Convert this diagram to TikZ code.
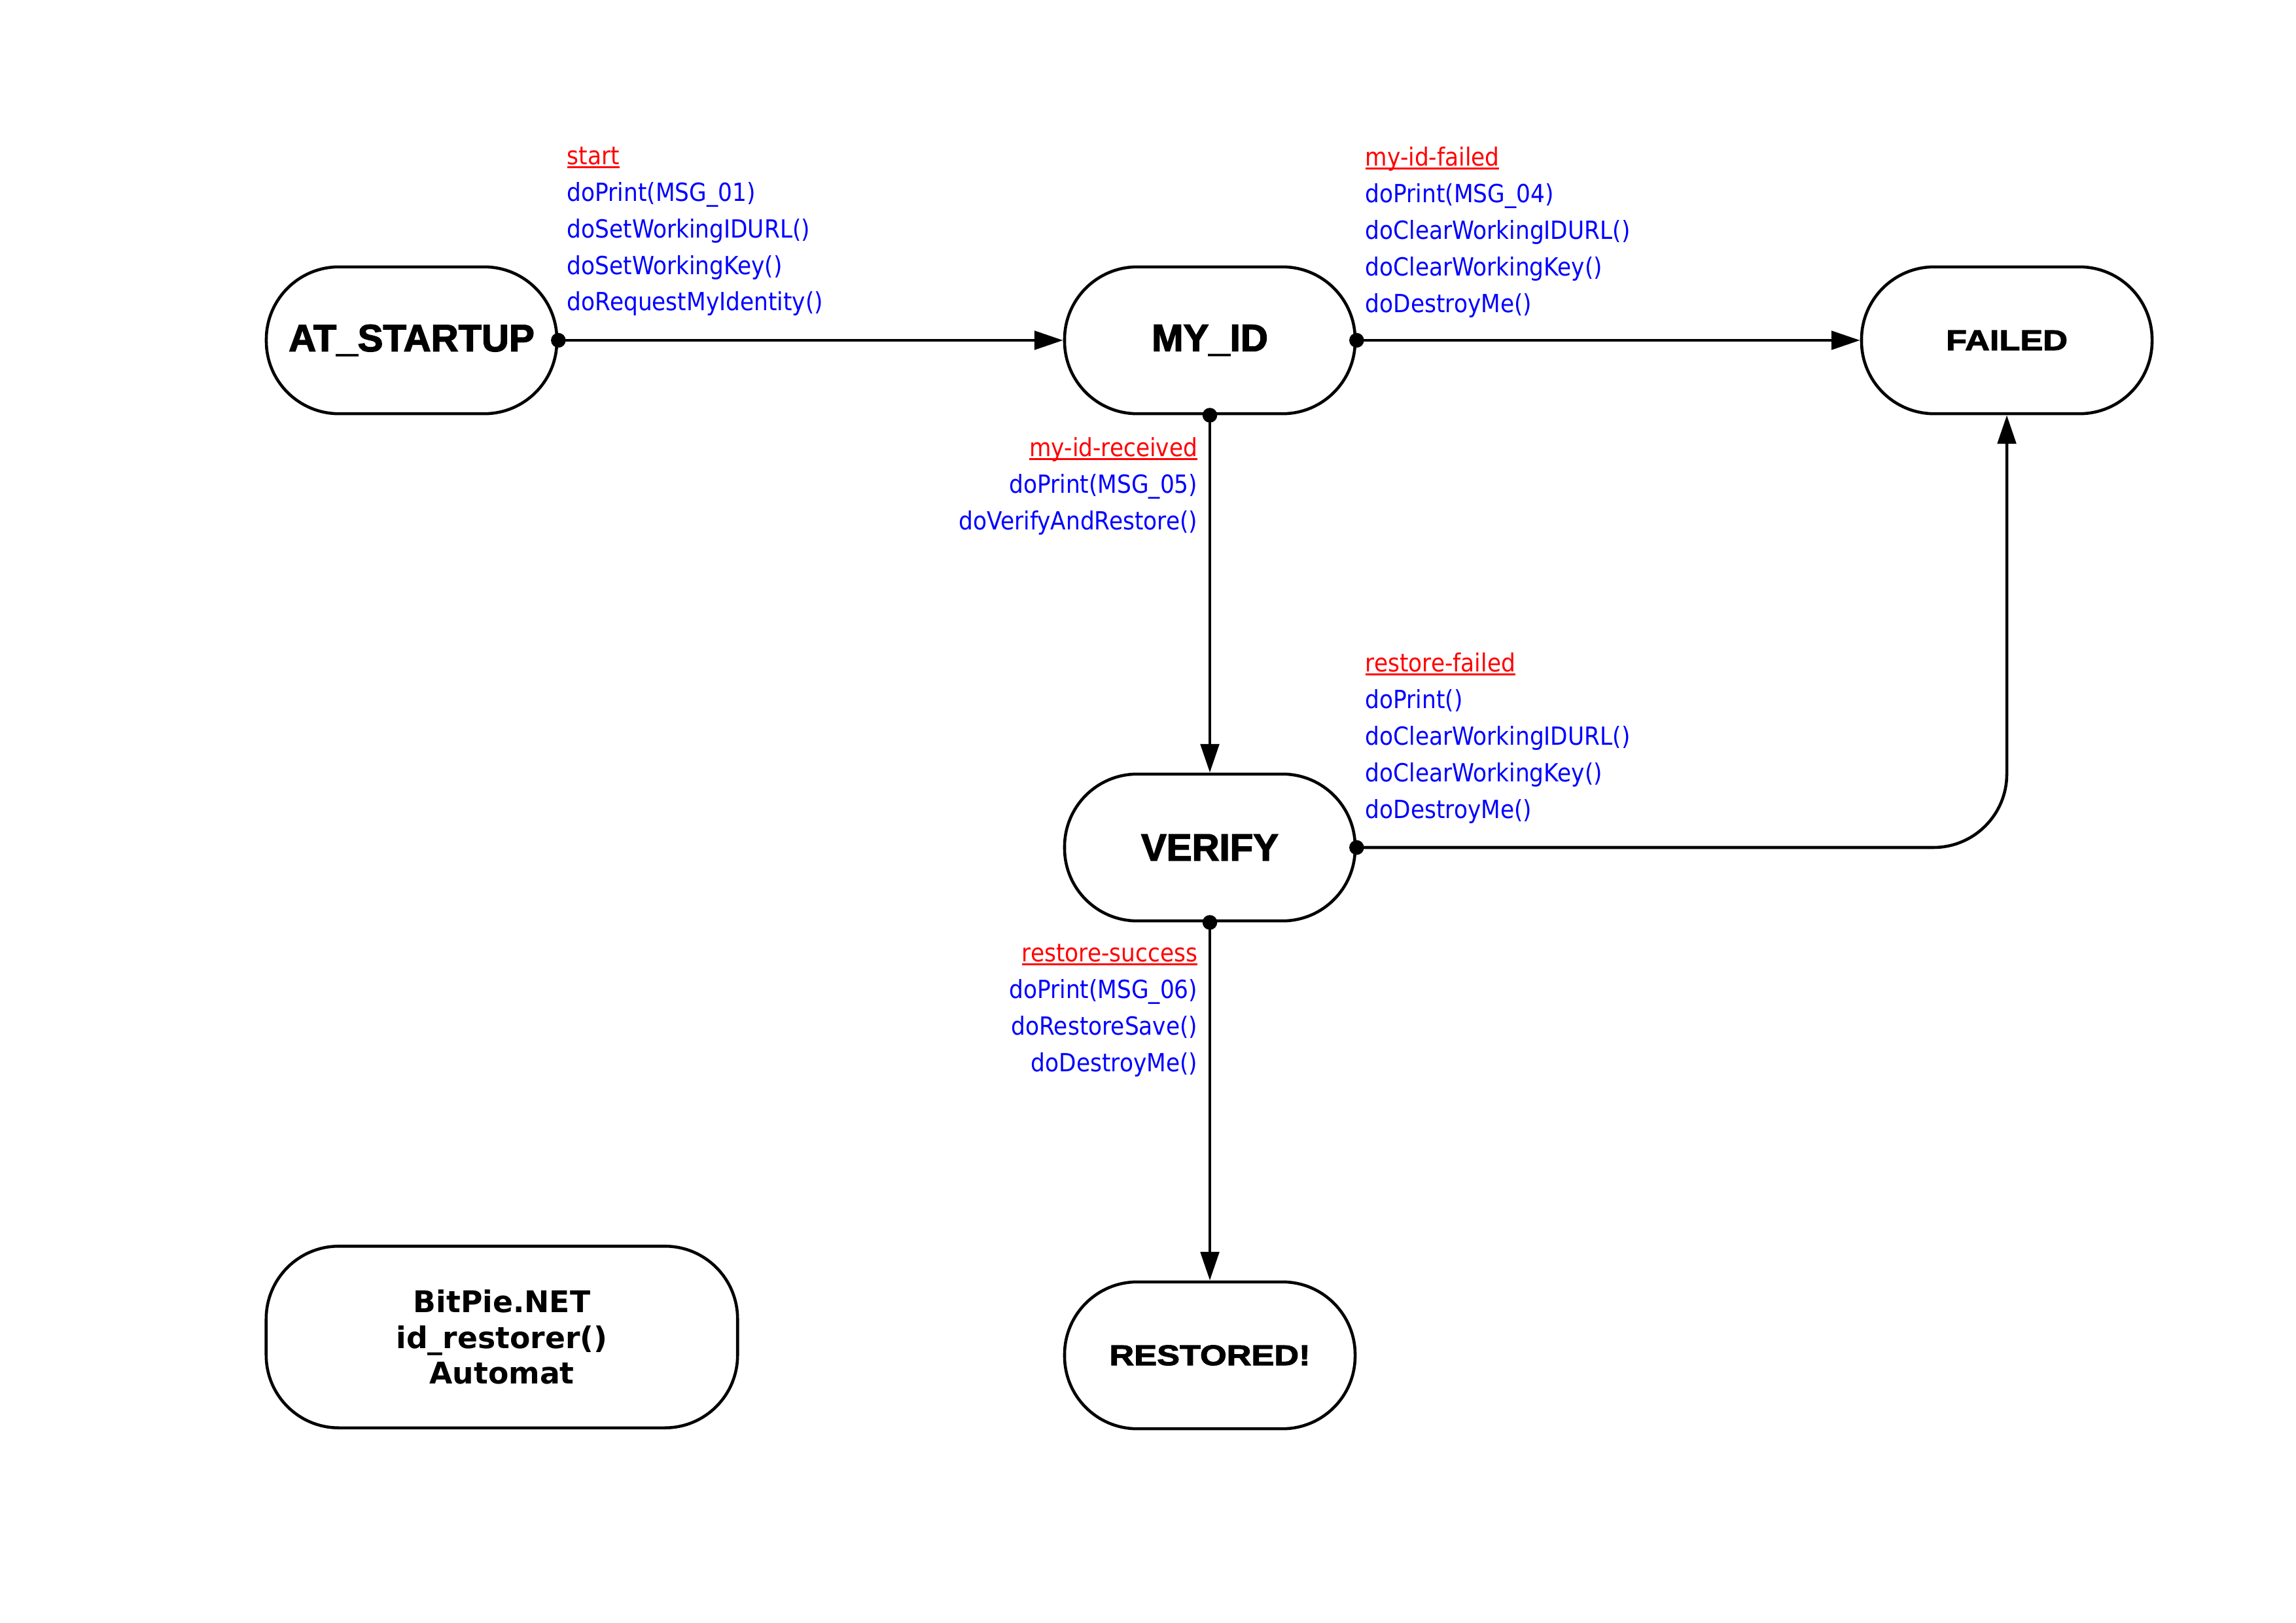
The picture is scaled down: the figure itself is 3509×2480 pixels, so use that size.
\documentclass[tikz,border=0pt]{standalone}
\usepackage{fontspec}
\usepackage{xcolor}
\usetikzlibrary{arrows.meta}
\newfontfamily\heavyfont[FakeBold=2.5]{Liberation Sans Bold}
\newfontfamily\wideheavyfont[FakeBold=2.5,FakeStretch=1.2]{Liberation Sans Bold}
\newfontfamily\actfont[FakeStretch=0.9]{DejaVu Sans}
\newfontfamily\titlefont{DejaVu Sans}
\newcommand{\evt}[1]{\textcolor{red}{\setbox0\hbox{#1}\rlap{\rule[-1.3pt]{\wd0}{0.7pt}}\box0}}

\begin{document}
\begin{tikzpicture}[x=0.084667mm,y=-0.084667mm,
  state/.style={draw,line width=1.1pt,rounded corners=9.4mm,minimum width=37.6mm,minimum height=19mm,inner sep=0pt},
  big/.style={font=\heavyfont\fontsize{14}{16}\selectfont},
  wide/.style={font=\wideheavyfont\fontsize{10.5}{12}\selectfont},
  act/.style={inner sep=0pt,text=blue,font=\actfont\fontsize{9.2}{13.45}\selectfont},
  trans/.style={line width=1.1pt,{Circle[length=1.9mm]}-{Triangle[length=3.7mm,width=2.4mm]},shorten <=-0.95mm}]
\useasboundingbox (0,0) rectangle (3509,2480);
% states
\node[state,big] (atstartup) at (629,520) {AT\_STARTUP};
\node[state,big] (myid) at (1849,520) {MY\_ID};
\node[state,wide] (failed) at (3067,520) {FAILED};
\node[state,big] (verify) at (1849,1295) {VERIFY};
\node[state,wide] (restored) at (1849,2071) {RESTORED!};
\node[state,minimum width=61mm,minimum height=23.5mm,align=center,
  font=\titlefont\bfseries\fontsize{11}{13.2}\selectfont] (bitpie) at (767,2043)
  {BitPie.NET\\id\_restorer()\\Automat};
% transitions
\draw[trans] (atstartup.east) -- (myid.west);
\draw[trans] (myid.east) -- (failed.west);
\draw[trans] (myid.south) -- (verify.north);
\draw[trans,rounded corners=9.5mm] (verify.east) -| (failed.south);
\draw[trans] (verify.south) -- (restored.north);
% labels
\node[act,anchor=north west,align=left] (lstart) at (866,224)
  {\evt{start}\\doPrint(MSG\_01)\\doSetWorkingIDURL()\\doSetWorkingKey()\\doRequestMyIdentity()};
\node[act,anchor=north west,align=left] (lmyidfailed) at (2086,224)
  {\evt{my-id-failed}\\doPrint(MSG\_04)\\doClearWorkingIDURL()\\doClearWorkingKey()\\doDestroyMe()};
\node[act,anchor=north east,align=right] (lmyidreceived) at (1831,668)
  {\evt{my-id-received}\\doPrint(MSG\_05)\\doVerifyAndRestore()};
\node[act,anchor=north west,align=left] (lrestorefailed) at (2086,997)
  {\evt{restore-failed}\\doPrint()\\doClearWorkingIDURL()\\doClearWorkingKey()\\doDestroyMe()};
\node[act,anchor=north east,align=right] (lrestoresuccess) at (1831,1442)
  {\evt{restore-success}\\doPrint(MSG\_06)\\doRestoreSave()\\doDestroyMe()};
\end{tikzpicture}
\end{document}
